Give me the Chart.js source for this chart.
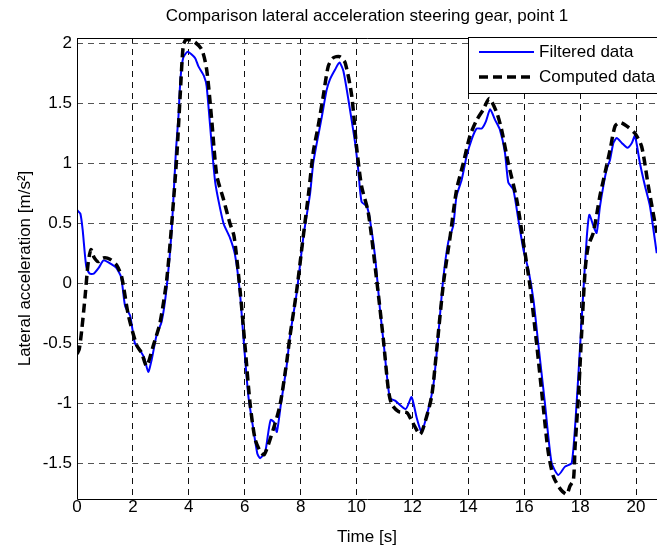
<!DOCTYPE html>
<html>
<head>
<meta charset="utf-8">
<script src="https://cdn.jsdelivr.net/npm/chart.js@4.4.1/dist/chart.umd.min.js"></script>
<style>
    html, body { margin: 0; padding: 0; background: #ffffff; }
    #wrap { width: 657px; height: 548px; position: relative; }
</style>
</head>
<body>
<div id="wrap"><canvas id="accelChart"></canvas></div>
<script>
// Filtered data (blue) - time [s] and lateral acceleration [m/s2]
const filteredTime = [0, 0.12, 0.2, 0.33, 0.45, 0.6, 0.78, 0.95, 1.15, 1.4, 1.58, 1.72, 1.9, 2.07, 2.25, 2.4, 2.55, 2.67, 2.85, 3.03,
    3.21, 3.39, 3.54, 3.63, 3.7, 3.8, 3.96, 4.22, 4.34, 4.54, 4.64, 4.94, 5.24, 5.47, 5.65, 5.83, 5.95, 6.13, 6.31, 6.45,
    6.55, 6.73, 6.84, 6.93, 7.05, 7.15, 7.3, 7.5, 7.62, 7.86, 8.1, 8.34, 8.45, 8.58, 8.76, 8.93, 9.05, 9.23, 9.39, 9.53,
    9.71, 9.95, 10.06, 10.18, 10.37, 10.48, 10.66, 10.84, 10.98, 11.1, 11.2, 11.38, 11.76, 11.97, 12.15, 12.33, 12.57, 12.75, 12.9, 13.1,
    13.28, 13.46, 13.58, 13.76, 13.94, 14.12, 14.3, 14.48, 14.63, 14.78, 14.96, 15.13, 15.31, 15.43, 15.61, 15.79, 15.97, 16.15, 16.33, 16.5,
    16.74, 16.98, 17.22, 17.46, 17.7, 17.88, 18.0, 18.12, 18.24, 18.33, 18.47, 18.59, 18.71, 18.83, 18.95, 19.07, 19.19, 19.31, 19.49, 19.69,
    19.85, 19.96, 20.14, 20.32, 20.5, 20.74];
const filteredAccel = [0.61, 0.58, 0.45, 0.14, 0.08, 0.08, 0.13, 0.19, 0.17, 0.13, 0.05, -0.19, -0.27, -0.5, -0.56, -0.62, -0.74, -0.64, -0.43, -0.32,
    -0.03, 0.45, 1.11, 1.39, 1.7, 1.88, 1.93, 1.88, 1.81, 1.73, 1.64, 0.85, 0.5, 0.38, 0.24, -0.08, -0.44, -0.94, -1.22, -1.42,
    -1.46, -1.41, -1.25, -1.14, -1.16, -1.24, -1.0, -0.69, -0.44, -0.08, 0.39, 0.75, 1.0, 1.17, 1.39, 1.61, 1.7, 1.78, 1.84, 1.77,
    1.53, 1.17, 0.95, 0.68, 0.64, 0.53, 0.23, -0.22, -0.52, -0.8, -0.96, -0.98, -1.05, -0.95, -1.12, -1.24, -1.05, -0.85, -0.5, 0.03,
    0.34, 0.48, 0.73, 0.86, 1.06, 1.2, 1.29, 1.29, 1.35, 1.45, 1.36, 1.28, 1.09, 0.84, 0.78, 0.53, 0.28, 0.11, -0.14, -0.5,
    -1.0, -1.5, -1.6, -1.53, -1.5, -0.98, -0.52, -0.05, 0.39, 0.57, 0.48, 0.42, 0.64, 0.81, 0.95, 1.03, 1.17, 1.21, 1.17, 1.13,
    1.17, 1.23, 1.0, 0.81, 0.64, 0.25];

// Computed data (black dashed)
const computedTime = [0, 0.08, 0.17, 0.29, 0.4, 0.5, 0.6, 0.76, 0.94, 1.18, 1.42, 1.6, 1.84, 2.14, 2.31, 2.49, 2.73, 2.97, 3.21, 3.39,
    3.57, 3.69, 3.8, 3.9, 4.16, 4.46, 4.64, 4.82, 5.0, 5.24, 5.47, 5.62, 5.83, 6.01, 6.19, 6.37, 6.55, 6.7, 7.02, 7.26,
    7.5, 7.62, 7.86, 8.1, 8.3, 8.45, 8.62, 8.81, 8.99, 9.17, 9.39, 9.59, 9.83, 10.0, 10.18, 10.42, 10.72, 10.96, 11.14, 11.26,
    11.5, 11.8, 11.98, 12.27, 12.45, 12.69, 12.87, 13.11, 13.35, 13.58, 13.82, 14.06, 14.3, 14.54, 14.75, 15.02, 15.19, 15.43, 15.73, 15.97,
    16.21, 16.45, 16.68, 16.86, 17.04, 17.3, 17.52, 17.64, 17.76, 17.82, 17.94, 18.06, 18.18, 18.29, 18.47, 18.71, 18.89, 19.07, 19.25, 19.43,
    19.67, 19.96, 20.2, 20.44, 20.68, 20.75];
const computedAccel = [-0.59, -0.55, -0.39, -0.11, 0.17, 0.28, 0.22, 0.18, 0.21, 0.2, 0.15, 0.05, -0.27, -0.52, -0.58, -0.69, -0.52, -0.33, 0.03, 0.5,
    1.06, 1.56, 1.98, 2.03, 2.02, 1.95, 1.78, 1.36, 0.9, 0.7, 0.5, 0.39, -0.05, -0.52, -1.0, -1.3, -1.4, -1.43, -1.22, -1.02,
    -0.66, -0.44, -0.06, 0.4, 0.78, 1.09, 1.3, 1.56, 1.81, 1.88, 1.89, 1.84, 1.56, 1.14, 0.81, 0.59, 0.03, -0.47, -0.89, -1.01,
    -1.07, -1.08, -1.15, -1.26, -1.16, -0.94, -0.55, 0.0, 0.39, 0.78, 1.0, 1.23, 1.36, 1.45, 1.54, 1.42, 1.28, 1.0, 0.7, 0.34,
    -0.03, -0.52, -1.03, -1.41, -1.61, -1.72, -1.76, -1.69, -1.64, -1.36, -0.94, -0.39, 0.11, 0.31, 0.42, 0.73, 0.92, 1.11, 1.31, 1.34,
    1.31, 1.25, 1.14, 0.81, 0.5, 0.42];

const seriesLabels = ['Filtered data', 'Computed data'];
const titleText = 'Comparison lateral acceleration steering gear, point 1';
const xAxisLabel = 'Time [s]';
const yAxisLabel = 'Lateral acceleration [m/s²]';

const FONT = 'Arial, "Liberation Sans", Helvetica, sans-serif';

function toPoints(xs, ys) {
    return xs.map((x, i) => ({ x: x, y: ys[i] }));
}

// plain tick text like 2, 1.5, -0.5
function plainTick(value) {
    return String(Math.round(value * 100) / 100);
}

// white background
const bgPlugin = {
    id: 'bg',
    beforeDraw(chart) {
        const ctx = chart.ctx;
        ctx.save();
        ctx.fillStyle = '#ffffff';
        ctx.fillRect(0, 0, chart.width, chart.height);
        ctx.restore();
    }
};

// solid axes lines (left, bottom, top) + legend box in the upper right corner
const boxPlugin = {
    id: 'box',
    afterDraw(chart) {
        const ctx = chart.ctx;
        const area = chart.chartArea;
        const t = Math.round(area.top) + 0.5;
        const b = Math.round(area.bottom) + 0.5;
        const l = Math.round(area.left) + 0.5;
        ctx.save();
        ctx.setLineDash([]);
        ctx.strokeStyle = '#000000';
        ctx.lineWidth = 1;
        ctx.beginPath();
        ctx.moveTo(area.right, t);
        ctx.lineTo(l, t);
        ctx.lineTo(l, b);
        ctx.lineTo(area.right, b);
        ctx.stroke();

        // legend
        const lx = 468.5, ly = 37.5, lw = 200, lh = 56;
        ctx.fillStyle = '#ffffff';
        ctx.fillRect(lx, ly, lw, lh);
        ctx.strokeRect(lx, ly, lw, lh);

        const ds = chart.data.datasets;
        const rows = [52, 77];
        ds.forEach((d, i) => {
            ctx.beginPath();
            ctx.strokeStyle = d.borderColor;
            ctx.lineWidth = d.borderWidth;
            ctx.setLineDash(d.borderDash || []);
            ctx.moveTo(479, rows[i]);
            ctx.lineTo(534, rows[i]);
            ctx.stroke();
            ctx.setLineDash([]);
            ctx.fillStyle = '#000000';
            ctx.font = '17px ' + FONT;
            ctx.textBaseline = 'middle';
            ctx.textAlign = 'left';
            ctx.fillText(d.label, 539, rows[i]);
        });
        ctx.restore();
    }
};

function initChart() {
    const ctx = document.getElementById('accelChart').getContext('2d');
    new Chart(ctx, {
        type: 'line',
        data: {
            datasets: [{
                label: seriesLabels[0],
                data: toPoints(filteredTime, filteredAccel),
                borderColor: '#0000ff',
                borderWidth: 2,
                pointRadius: 0,
                tension: 0.2,
                fill: false,
                order: 1
            }, {
                label: seriesLabels[1],
                data: toPoints(computedTime, computedAccel),
                borderColor: '#000000',
                borderWidth: 3.5,
                borderDash: [9, 5],
                pointRadius: 0,
                tension: 0.25,
                fill: false,
                order: 0
            }]
        },
        options: {
            responsive: false,
            animation: false,
            layout: { padding: 0 },
            plugins: {
                legend: { display: false },
                tooltip: { enabled: false },
                title: {
                    display: true,
                    text: titleText,
                    fullSize: false,
                    color: '#000000',
                    font: { family: FONT, size: 17, weight: 'normal' },
                    padding: { top: 6, bottom: 11.6 }
                }
            },
            scales: {
                x: {
                    type: 'linear',
                    min: 0,
                    max: 20.75,
                    border: { display: false, dash: [6, 5] },
                    grid: {
                        color: '#111111',
                        lineWidth: 1,
                        drawTicks: false
                    },
                    ticks: {
                        stepSize: 2,
                        includeBounds: false,
                        color: '#000000',
                        padding: 0,
                        maxRotation: 0,
                        callback: plainTick,
                        font: { family: FONT, size: 17, lineHeight: 1 }
                    },
                    title: {
                        display: true,
                        text: xAxisLabel,
                        color: '#000000',
                        font: { family: FONT, size: 17 },
                        padding: { top: 0, bottom: 0 }
                    },
                    afterFit(scale) { scale.height = 49; }
                },
                y: {
                    type: 'linear',
                    min: -1.8,
                    max: 2.045,
                    border: { display: false, dash: [6, 5] },
                    grid: {
                        color: '#555555',
                        lineWidth: 1,
                        drawTicks: false
                    },
                    ticks: {
                        stepSize: 0.5,
                        includeBounds: false,
                        color: '#000000',
                        padding: 5,
                        callback: plainTick,
                        font: { family: FONT, size: 17 }
                    },
                    title: {
                        display: true,
                        text: yAxisLabel,
                        color: '#000000',
                        font: { family: FONT, size: 17 },
                        padding: { top: 15, bottom: 0 }
                    },
                    afterFit(scale) { scale.width = 77; }
                }
            }
        },
        plugins: [bgPlugin, boxPlugin]
    });
}

document.addEventListener('DOMContentLoaded', () => {
    const c = document.getElementById('accelChart');
    c.width = 657;
    c.height = 548;
    initChart();
});
</script>
</body>
</html>
